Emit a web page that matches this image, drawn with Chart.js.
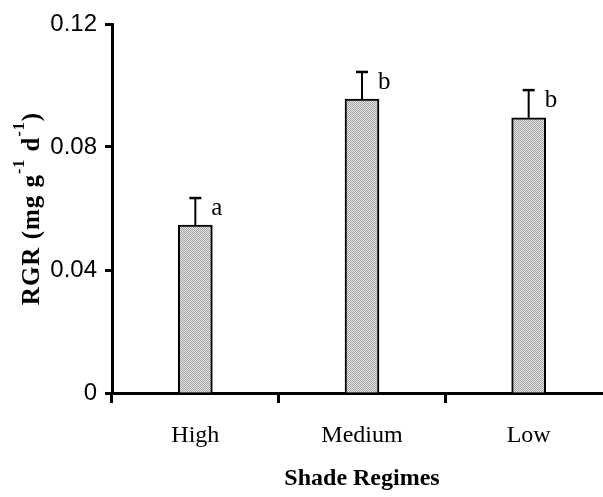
<!DOCTYPE html>
<html>
<head>
<meta charset="utf-8">
<script src="https://cdn.jsdelivr.net/npm/chart.js@4.4.1/dist/chart.umd.min.js"></script>
<style>
  html, body { margin: 0; padding: 0; background: #fff; overflow: hidden; }
  #wrap { width: 615px; height: 497px; }
</style>
</head>
<body>
<div id="wrap"><canvas id="rgrChart" width="615" height="497"></canvas></div>
<script>
// data
const regimes = ["High", "Medium", "Low"];
const rgrMeans = [0.0546, 0.0956, 0.0895];
const rgrErrors = [0.0088, 0.0088, 0.0090];
const sigLetters = ["a", "b", "b"];
const yTicks = [0, 0.04, 0.08, 0.12];

// dotted grey fill like the original
function makePattern() {
  const p = document.createElement("canvas");
  p.width = 2;
  p.height = 2;
  const pc = p.getContext("2d");
  pc.fillStyle = "#e4e4e4";
  pc.fillRect(0, 0, 2, 2);
  pc.fillStyle = "#a4a4a4";
  pc.fillRect(0, 0, 1, 1);
  pc.fillRect(1, 1, 1, 1);
  return pc.createPattern(p, "repeat");
}

const ctx = document.getElementById("rgrChart").getContext("2d");

// error bars + letters
const errorBarPlugin = {
  id: "errorBars",
  afterDatasetsDraw(chart) {
    const c = chart.ctx;
    const y = chart.scales.y;
    const meta = chart.getDatasetMeta(0);
    c.save();
    c.strokeStyle = "#000";
    c.fillStyle = "#000";
    meta.data.forEach((bar, i) => {
      const top = y.getPixelForValue(rgrMeans[i]);
      const cap = y.getPixelForValue(rgrMeans[i] + rgrErrors[i]);
      c.lineWidth = 2;
      c.beginPath();
      c.moveTo(bar.x, top);
      c.lineTo(bar.x, cap);
      c.stroke();
      c.lineWidth = 2.5;
      c.beginPath();
      c.moveTo(bar.x - 6, cap);
      c.lineTo(bar.x + 6, cap);
      c.stroke();
      c.font = "25px 'Liberation Serif'";
      c.textAlign = "left";
      c.textBaseline = "alphabetic";
      c.fillText(sigLetters[i], bar.x + bar.width / 2 - 1, (top + cap) / 2 + 3);
    });
    c.restore();
  },
};

// y title with superscripts
const yTitlePlugin = {
  id: "yTitle",
  afterDraw(chart) {
    const c = chart.ctx;
    const area = chart.chartArea;
    const parts = [
      { t: "RGR (mg g", sup: false },
      { t: "-1", sup: true },
      { t: " d", sup: false },
      { t: "-1", sup: true },
      { t: ")", sup: false },
    ];
    const mainFont = "bold 25px 'Liberation Serif'";
    const supFont = "bold 16px 'Liberation Serif'";
    c.save();
    c.letterSpacing = "1px";
    let total = 0;
    parts.forEach((p) => {
      c.font = p.sup ? supFont : mainFont;
      p.w = c.measureText(p.t).width;
      total += p.w;
    });
    c.translate(39, (area.top + area.bottom) / 2);
    c.rotate(-Math.PI / 2);
    c.fillStyle = "#000";
    c.textBaseline = "alphabetic";
    let x = -total / 2;
    parts.forEach((p) => {
      c.font = p.sup ? supFont : mainFont;
      c.fillText(p.t, x, p.sup ? -15 : 0);
      x += p.w;
    });
    c.restore();
  },
};

const rgrChart = new Chart(ctx, {
  type: "bar",
  data: {
    labels: regimes,
    datasets: [
      {
        data: rgrMeans,
        backgroundColor: makePattern(),
        borderColor: "#000",
        borderWidth: 2,
        barThickness: 34,
      },
    ],
  },
  options: {
    responsive: false,
    animation: false,
    devicePixelRatio: 1,
    layout: { padding: { top: 24, right: 3, left: 0, bottom: 0 } },
    plugins: {
      legend: { display: false },
      tooltip: { enabled: false },
    },
    scales: {
      x: {
        grid: {
          display: true,
          drawOnChartArea: false,
          drawTicks: true,
          tickLength: 10,
          tickWidth: 3,
          tickColor: "#000",
        },
        border: { display: true, color: "#000", width: 3 },
        ticks: {
          color: "#000",
          padding: 18,
          font: { family: "'Liberation Serif'", size: 24 },
        },
        title: {
          display: true,
          text: "Shade Regimes",
          color: "#000",
          font: { family: "'Liberation Serif'", size: 24, weight: "bold" },
          padding: { top: 0, bottom: 4 },
        },
        afterFit(scale) {
          scale.height = 104;
        },
      },
      y: {
        min: 0,
        max: 0.12,
        grid: {
          display: true,
          drawOnChartArea: false,
          drawTicks: true,
          tickLength: 7,
          tickWidth: 3,
          tickColor: "#000",
        },
        border: { display: true, color: "#000", width: 3 },
        ticks: {
          color: "#000",
          padding: 8,
          font: { family: "'Liberation Sans'", size: 24 },
          callback: (v) => (v === 0 ? "0" : v.toFixed(2)),
        },
        afterBuildTicks(scale) {
          scale.ticks = yTicks.map((v) => ({ value: v }));
        },
        afterFit(scale) {
          scale.width = 112;
        },
      },
    },
  },
  plugins: [errorBarPlugin, yTitlePlugin],
});
</script>
</body>
</html>
